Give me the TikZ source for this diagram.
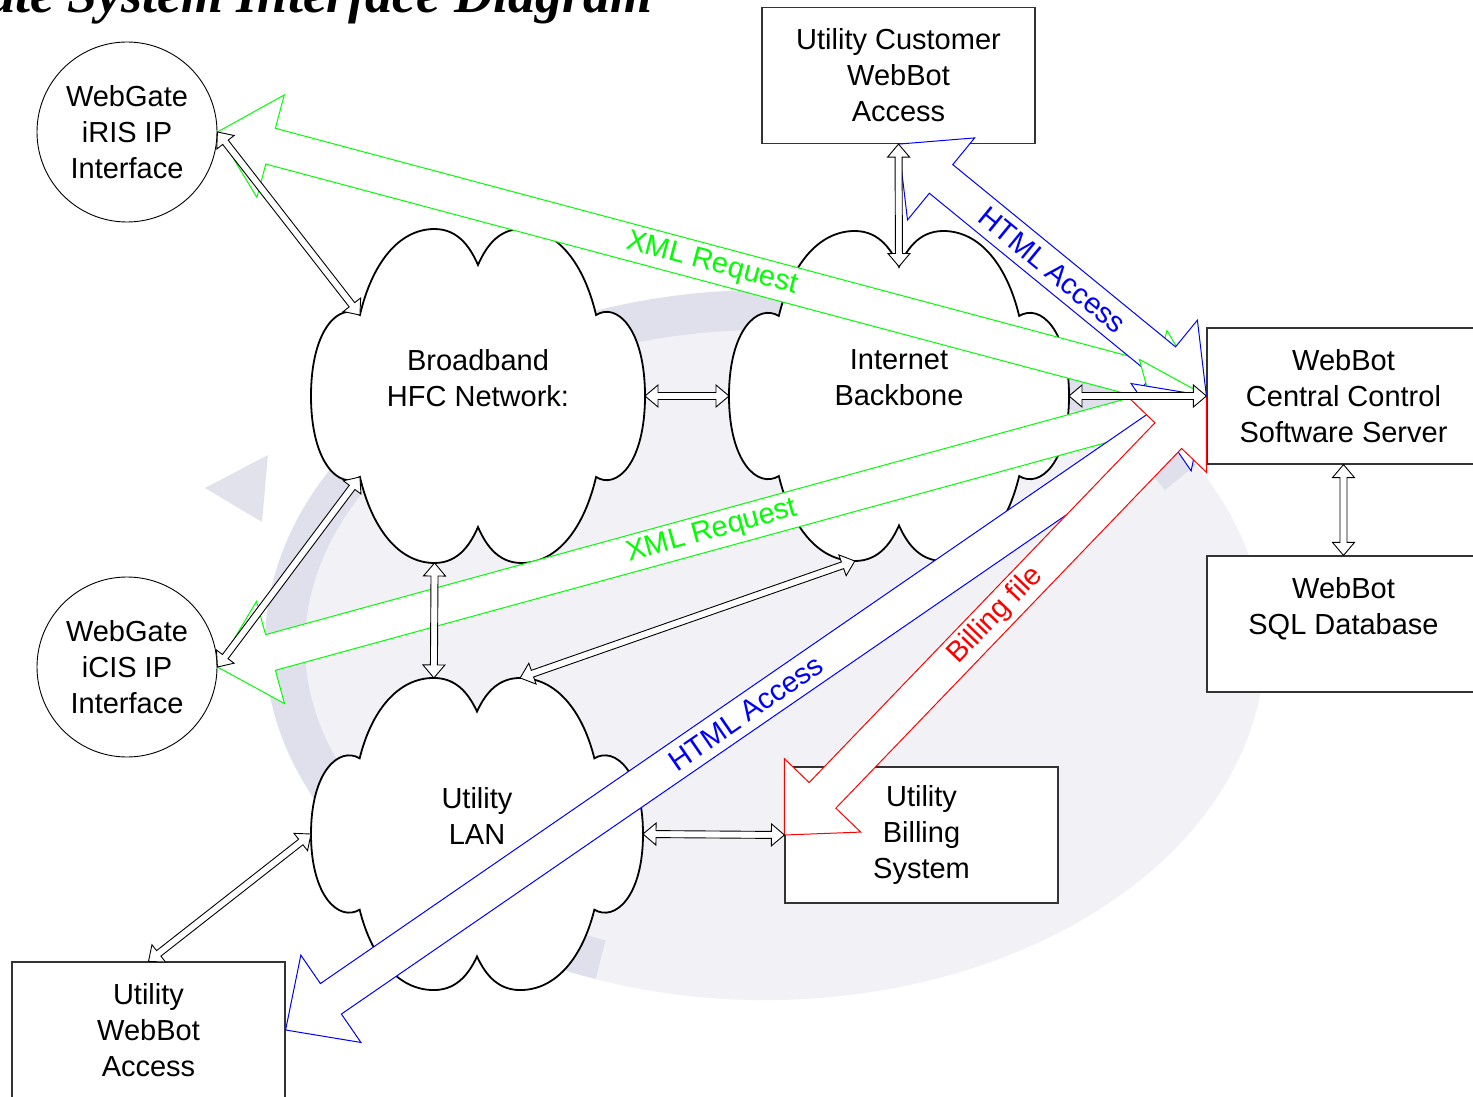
\documentclass[tikz,border=0pt]{standalone}
\usepackage{fontspec}
\setmainfont{Liberation Sans}
\newfontfamily\titlefont{Liberation Serif}
\usetikzlibrary{calc}

\definecolor{logo}{RGB}{214,214,230}

\tikzset{
  netbox/.style={draw=black!80, line width=1.2pt, fill=white, minimum width=273pt,
    minimum height=136pt, inner sep=0pt, align=center},
  netcirc/.style={circle, draw=black, line width=0.9pt, fill=white, minimum size=180pt,
    inner sep=0pt, align=center},
  cloudline/.style={draw=black, line width=1.8pt, fill=white},
}

% double headed block arrow: style, from, to, shaft half width, head half width, head length
\newcommand\blockarrow[6]{%
  \filldraw[#1] (#2)
    -- ($(#2)!#6!(#3)!#5!90:(#3)$)
    -- ($(#2)!#6!(#3)!#4!90:(#3)$)
    -- ($(#3)!#6!(#2)!#4!-90:(#2)$)
    -- ($(#3)!#6!(#2)!#5!-90:(#2)$)
    -- (#3)
    -- ($(#3)!#6!(#2)!#5!90:(#2)$)
    -- ($(#3)!#6!(#2)!#4!90:(#2)$)
    -- ($(#2)!#6!(#3)!#4!-90:(#3)$)
    -- ($(#2)!#6!(#3)!#5!-90:(#3)$)
    -- cycle;
}
\newcommand\widearrow[4]{% colour, from, to, label
  \blockarrow{draw=#1, fill=white, line width=1pt}{#2}{#3}{18.5pt}{53pt}{55pt}
  \path (#2) -- (#3) node[midway, sloped, text=#1] {#4};
}
\newcommand\thinarrow[2]{%
  \blockarrow{draw=black, fill=white, line width=0.9pt}{#1}{#2}{3.5pt}{11pt}{13pt}
}

% cloud: name, centre x, centre y, half width, half height, text
\newcommand\netcloud[6]{%
  \begin{scope}[shift={(#2,#3)}, x=#4pt, y=-#5pt]
    \filldraw[cloudline] (-0.707,-0.482)
      .. controls (-0.637,-0.78) and (-0.48,-0.994) .. (-0.26,-0.994)
      .. controls (-0.11,-0.994) and (-0.04,-0.87) .. (0,-0.78)
      .. controls (0.04,-0.87) and (0.11,-0.994) .. (0.26,-0.994)
      .. controls (0.48,-0.994) and (0.637,-0.78) .. (0.707,-0.482)
      .. controls (0.83,-0.56) and (1,-0.40) .. (1,0)
      .. controls (1,0.40) and (0.83,0.56) .. (0.707,0.482)
      .. controls (0.637,0.78) and (0.48,0.994) .. (0.26,0.994)
      .. controls (0.11,0.994) and (0.04,0.87) .. (0,0.78)
      .. controls (-0.04,0.87) and (-0.11,0.994) .. (-0.26,0.994)
      .. controls (-0.48,0.994) and (-0.637,0.78) .. (-0.707,0.482)
      .. controls (-0.83,0.56) and (-1,0.40) .. (-1,0)
      .. controls (-1,-0.40) and (-0.83,-0.56) .. cycle;
    % anchors
    \coordinate (#1-w) at (-1,0);
    \coordinate (#1-e) at (1,0);
    \coordinate (#1-n) at (0,-0.78);
    \coordinate (#1-s) at (0,0.78);
    \coordinate (#1-nw) at (-0.707,-0.482);
    \coordinate (#1-sw) at (-0.707,0.482);
    \coordinate (#1-nwp) at (-0.26,-0.994);
    \coordinate (#1-nep) at (0.26,-0.994);
    \coordinate (#1-swp) at (-0.26,0.994);
    \coordinate (#1-sep) at (0.26,0.994);
    \node[align=center] (#1) at (0,0) {#6};
  \end{scope}
}

\begin{document}
\begin{tikzpicture}[x=1pt, y=-1pt, font=\fontsize{29}{36}\selectfont]
  \useasboundingbox (0,0) rectangle (1473,1097);
  \fill[white] (0,0) rectangle (1473,1097);

  % faint logo behind the network
  \fill[logo!35] (765,645) ellipse [x radius=480pt, y radius=335pt];
  \draw[logo!75, line width=40pt] ($(765,645)+(30:480pt and 335pt)$)
    arc [start angle=30, end angle=250, x radius=480pt, y radius=335pt];
  \draw[logo!35, line width=40pt] ($(765,645)+(250:480pt and 335pt)$)
    arc [start angle=250, end angle=390, x radius=480pt, y radius=335pt];
  \fill[logo!70] (205,488) -- (268,455) -- (262,522) -- cycle;

  % title, cut by the page edge
  \node[anchor=base east, font=\titlefont\bfseries\itshape\fontsize{54}{54}\selectfont]
    (title) at (656,13) {WebGate System Interface Diagram};

  % networks
  \netcloud{hfc}{478}{396}{167}{168}{Broadband\\HFC Network:\\\mbox{}}
  \netcloud{inet}{899}{396}{170}{166}{Internet\\Backbone\\\mbox{}}
  \netcloud{lan}{477}{834}{166}{157}{Utility\\LAN\\\mbox{}}

  % interfaces and systems
  \node[netcirc] (iris) at (127,132) {WebGate\\iRIS IP\\Interface};
  \node[netcirc] (icis) at (127,667) {WebGate\\iCIS IP\\Interface};
  \node[netbox] (cust) at (898.5,75.5) {Utility Customer\\WebBot\\Access};
  \node[netbox] (server) at (1343.5,396) {WebBot\\Central Control\\Software Server};
  \node[netbox] (sqldb) at (1343.5,624) {WebBot\\SQL Database\\\mbox{}};
  \node[netbox] (billing) at (921.5,835) {Utility\\Billing\\System};
  \node[netbox] (wbacc) at (148.5,1030) {Utility\\WebBot\\Access};

  % data flows
  \widearrow{green}{iris.east}{server.west}{XML Request}
  \widearrow{blue}{cust.south}{server.west}{HTML Access}
  \widearrow{green}{icis.east}{server.west}{XML Request}
  \widearrow{blue}{wbacc.east}{server.west}{HTML Access}
  \widearrow{red}{billing.west}{server.west}{Billing file}

  % links
  \foreach \src/\dst in {iris.east/hfc-nw, icis.east/hfc-sw, hfc-e/inet-w,
      cust.south/inet-n, inet-e/server.west, server.south/sqldb.north,
      hfc-swp/lan-nwp, inet-swp/lan-nep, lan-e/billing.west, lan-w/wbacc.north} {
    \thinarrow{\src}{\dst}
  }
\end{tikzpicture}
\end{document}
